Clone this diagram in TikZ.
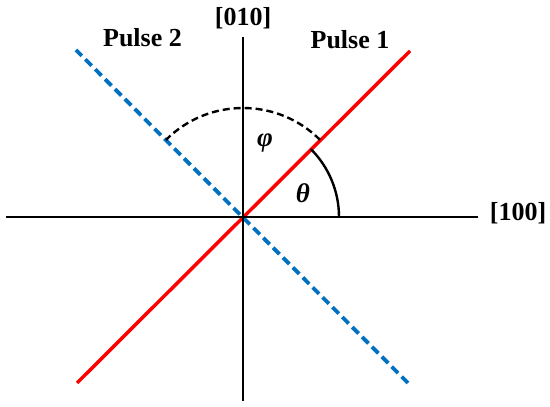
\documentclass[tikz,border=0pt]{standalone}
\usepackage{fontspec}
\setmainfont{Liberation Serif}
\definecolor{pblue}{RGB}{0,112,192}
\definecolor{pred}{RGB}{255,0,0}
\begin{document}
\begin{tikzpicture}[x=1pt,y=1pt,
  axis/.style={line width=2.8pt,black},
  pulseone/.style={line width=3.5pt,pred},
  pulsetwo/.style={line width=3.8pt,pblue,dash pattern=on 9pt off 5pt},
  lbl/.style={font=\fontsize{26}{30}\selectfont\bfseries,inner sep=0pt},
  greek/.style={font=\fontsize{27}{30}\selectfont\bfseries\itshape,inner sep=0pt}]
\useasboundingbox (0,0) rectangle (550,407);
\coordinate (O) at (243,190);
\coordinate (xl) at (6,190);
\coordinate (xr) at (478,190);
\coordinate (yb) at (243,6);
\coordinate (yt) at (243,370);
\coordinate (r1) at (77,24);
\coordinate (r2) at (410,356);
\coordinate (b1) at (76,357);
\coordinate (b2) at (408,24);
\draw[pulseone] (r1) -- (r2);
\draw[pulsetwo] (b2) -- (b1);
\draw[axis] (xl) -- (xr);
\draw[axis] (yb) -- (yt);
\draw[line width=2.4pt] ([shift={(0:96)}]O) arc[start angle=0,end angle=45,radius=96pt];
\draw[line width=2.4pt,dash pattern=on 7pt off 4pt] ([shift={(45:109)}]O) arc[start angle=45,end angle=135,radius=109pt];
\node[lbl] (l010) at (243,389) {[010]};
\node[lbl] (l100) at (518,194) {[100]};
\node[lbl] (p2) at (142.5,369) {Pulse 2};
\node[lbl] (p1) at (350,367) {Pulse 1};
\node[greek] (phi) at (265,264) {φ};
\node[greek] (th) at (303,214) {θ};
\end{tikzpicture}
\end{document}
